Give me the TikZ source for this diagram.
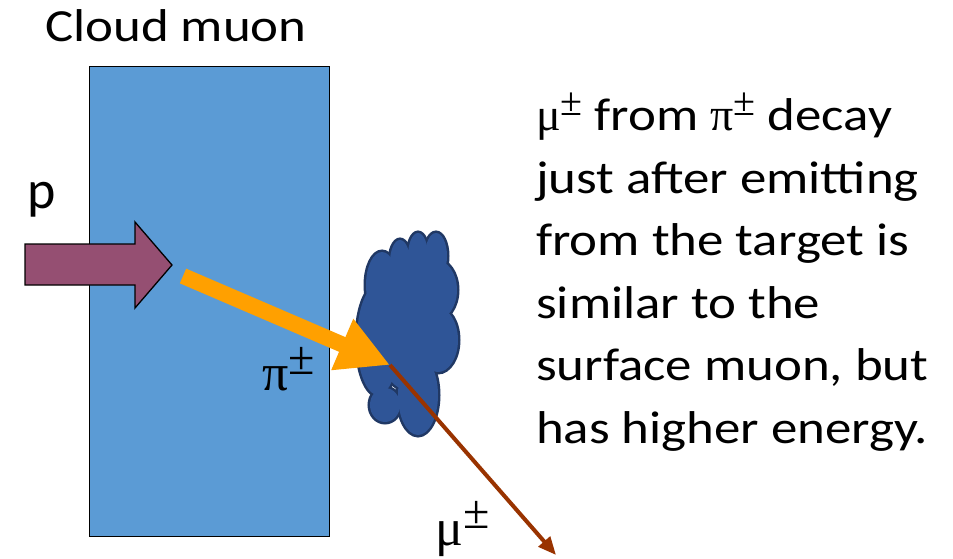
\documentclass[tikz,border=0pt]{standalone}
\usepackage{fontspec}
\setmainfont{Carlito}
\newfontfamily\bodyfont[FakeStretch=1.15]{Carlito}
\newfontfamily\greekfont{Liberation Serif}
\usetikzlibrary{arrows.meta}

\definecolor{boxblue}{HTML}{5B9BD5}
\definecolor{beamplum}{HTML}{954F72}
\definecolor{cloudfill}{HTML}{2F5597}
\definecolor{cloudline}{HTML}{203864}
\definecolor{pionorange}{HTML}{FFA000}
\definecolor{muonbrown}{HTML}{993300}

% Greek letter with a raised charge sign: letter size, sign size, raise
\newcommand{\particle}[4]{{\greekfont\fontsize{#2}{#2}\selectfont #1\raisebox{#4}{\fontsize{#3}{#3}\selectfont ±}}}

\begin{document}
\begin{tikzpicture}[x=1pt,y=-1pt,
  txt/.style={inner sep=0pt, anchor=base west, text=black,
    font=\bodyfont\fontsize{46}{46}\selectfont},
  tgtbox/.style={draw=black, line width=1.3pt, fill=boxblue, inner sep=0pt,
    minimum width=240pt, minimum height=470pt, anchor=north west},
  beam/.style={draw=black, line width=1.3pt, fill=beamplum, line join=miter},
  puffline/.style={draw=cloudline, line width=5pt},
  pufffill/.style={fill=cloudfill},
  piontrack/.style={pionorange, line width=16pt,
    -{Triangle[length=52pt,width=52pt]}},
  muontrack/.style={muonbrown, line width=4pt,
    -{Triangle[length=18pt,width=15pt]}}]

\fill[white] (0,0) rectangle (953,559);
\useasboundingbox (0,0) rectangle (953,559);

% production target
\node[tgtbox] (target) at (89,66) {};

% incoming proton beam
\draw[beam] (25,244) -- (135,244) -- (135,222) -- (172,265)
  -- (135,308) -- (135,285) -- (25,285) -- cycle;

% decay cloud: outlined union of puffs
\def\puffs{382/285/16/33, 400/262/10/22, 418/256/10/23, 436/256/11/23,
    436/290/21/30, 438/340/20/32, 418/395/20/40, 385/405/15/17,
    378/340/21/55, 408/320/35/70}
\foreach \cx/\cy/\rx/\ry in \puffs
  \path[puffline] (\cx,\cy) ellipse [x radius=\rx pt, y radius=\ry pt];
\foreach \cx/\cy/\rx/\ry in \puffs
  \path[pufffill] (\cx,\cy) ellipse [x radius=\rx pt, y radius=\ry pt];

\coordinate (pistart) at (183,276);
\coordinate (decay) at (390,365);
\coordinate (muend) at (556,555);

% pion and muon tracks
\draw[piontrack] (pistart) -- (decay);
\draw[muontrack] (decay) -- (muend);

% labels
\node[txt] (title) at (45,42) {Cloud muon};
\node[txt, font=\fontsize{54}{54}\selectfont] (plabel) at (27,208) {p};
\node[txt] (pilabel) at (262,390) {\particle{π}{52}{48}{16pt}};
\node[txt] (mulabel) at (435,545) {\particle{μ}{52}{48}{17pt}};

% explanation
\node[txt] (line1) at (536,131.0) {\particle{μ}{46}{40}{15pt} from \particle{π}{46}{40}{15pt} decay};
\node[txt] (line2) at (536,193.4) {just after emitting};
\node[txt] (line3) at (536,255.8) {from the target is};
\node[txt] (line4) at (536,318.2) {similar to the};
\node[txt] (line5) at (536,380.6) {surface muon, but};
\node[txt] (line6) at (536,443.0) {has higher energy.};
\end{tikzpicture}
\end{document}
